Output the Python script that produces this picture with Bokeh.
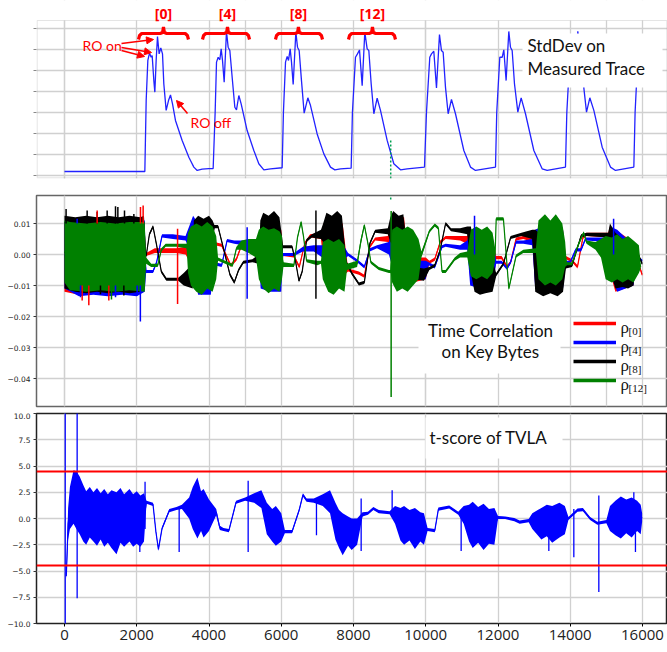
import numpy as np
from bokeh.plotting import figure
from bokeh.layouts import column
from bokeh.models import (FixedTicker, Grid, CustomJSTickFormatter, Label, BoxAnnotation,
                          Arrow, NormalHead, Legend, LegendItem, Range1d)
from bokeh.embed import file_html
from bokeh.resources import INLINE

# ---------------- data ----------------
x_ticks = [0, 2000, 4000, 6000, 8000, 10000, 12000, 14000, 16000]
std_ticks = [0, 1, 2, 3, 4, 5, 6, 7]
corr_ticks = [0.01, 0.0, -0.01, -0.02, -0.03, -0.04]
t_ticks = [10, 7.5, 5, 2.5, 0, -2.5, -5, -7.5, -10]

# StdDev of measured trace (arbitrary units)
std_trace = [
    (0, 0.19), (2224, 0.19), (2261, 3.57), (2307, 5.48), (2353, 5.83), (2399, 5.63), (2427, 5.71),
    (2473, 4.52), (2501, 3.97), (2537, 5.48), (2574, 6.62), (2620, 5.79), (2666, 6.08), (2713, 5.79),
    (2749, 4.37), (2814, 3.10), (2879, 3.57), (2934, 3.84), (2990, 3.41), (3072, 2.62), (3257, 1.67),
    (3442, 0.87), (3580, 0.40), (3673, 0.24), (3811, 0.30), (3995, 0.33), (4115, 0.33),
    (4170, 3.0), (4208, 5.40), (4254, 5.63), (4300, 5.51), (4337, 6.03), (4374, 5.48), (4420, 4.44),
    (4484, 6.87), (4530, 6.11), (4577, 5.95), (4641, 4.68), (4715, 3.25), (4761, 3.13), (4826, 3.81),
    (4890, 3.41), (5056, 2.14), (5241, 1.19), (5379, 0.56), (5518, 0.27), (5702, 0.32), (6025, 0.37),
    (6060, 3.0), (6118, 5.40), (6164, 5.67), (6201, 5.48), (6247, 6.03), (6284, 5.40), (6330, 4.33),
    (6404, 6.83), (6450, 6.11), (6496, 5.95), (6560, 4.52), (6634, 2.97), (6736, 3.70), (6810, 3.33),
    (6994, 1.98), (7179, 1.03), (7363, 0.40), (7483, 0.27), (7640, 0.32), (7935, 0.35),
    (7970, 3.0), (8055, 5.63), (8110, 5.79), (8166, 5.98), (8240, 4.28), (8313, 6.83), (8378, 6.03),
    (8424, 5.95), (8489, 4.37), (8563, 2.94), (8655, 3.68), (8747, 3.10), (8932, 1.67), (9116, 0.56),
    (9301, 0.27), (9486, 0.32), (9965, 0.40),
    (10020, 3.0), (10112, 5.63), (10159, 5.79), (10223, 5.92), (10297, 4.17), (10380, 6.71),
    (10435, 5.95), (10482, 5.87), (10546, 4.21), (10620, 2.94), (10712, 3.62), (10823, 2.94),
    (11054, 1.19), (11239, 0.40), (11377, 0.24), (11931, 0.40),
    (11965, 3.0), (12050, 5.63), (12115, 5.63), (12161, 5.98), (12225, 4.52), (12299, 6.86),
    (12345, 6.11), (12392, 5.95), (12456, 4.37), (12549, 3.02), (12641, 3.70), (12761, 2.94),
    (12992, 1.19), (13222, 0.32), (13361, 0.24), (13868, 0.40),
    (13905, 3.0), (13988, 5.63), (14053, 5.71), (14099, 6.03), (14163, 4.44), (14209, 6.87),
    (14265, 6.03), (14311, 5.95), (14376, 4.17), (14450, 3.02), (14542, 3.70), (14653, 3.10),
    (14884, 1.35), (15114, 0.40), (15253, 0.24), (15760, 0.40),
    (15795, 3.0), (15870, 5.63), (15926, 5.79), (15990, 5.98),
]

# Time correlation envelopes per key byte: (sample, low, high) in units of 1e-3
rho0_env = [
    (0, -12, 10.5), (400, -13, 11), (800, -12.5, 10.5), (1200, -13, 11), (1600, -12.5, 10.5),
    (2000, -13, 11), (2200, -12, 11.5), (2260, -0.5, 0.5), (2500, 0.5, 2),
    (2800, 0.5, 2), (3100, 0.5, 2), (3350, 0, 2.5), (3450, -2, 5), (3580, -3, 10), (3800, -2, 9),
    (4050, -3, 10), (4150, 3, 4), (4350, 2.5, 3.5), (4600, -4, -3), (4760, -2, -1), (4900, 2.5, 3.5),
    (5200, 2, 3.5), (5380, 0.5, 4), (5420, -8, 8), (6000, -8, 8), (6050, -0.5, 0.5), (6350, -1, 0),
    (6500, -4.5, -3.5), (6650, 3, 4), (6800, 5.5, 6.5), (7100, 5, 7), (7180, -5, 10), (7700, -7, 10),
    (7850, -5.5, -4.5), (8150, -6.5, -5.5), (8300, -7.5, -6.5), (8450, 2, 3), (8600, 4.5, 5.5),
    (8950, 4, 6), (9040, -1, 12), (9400, -1, 12), (9500, -5, 0), (9650, -9, -1), (10000, -8, -1),
    (10100, -3, -2), (10250, -2, -1), (10400, 3.5, 4.5), (10550, 5, 6), (10950, 4.5, 6),
    (11150, 3.5, 6), (11230, -8, 8), (11500, -12, 7), (11850, -11, 5), (11950, -1.5, -0.5),
    (12100, -1.5, -0.5), (12250, -4.5, -3.5), (12350, -3, -2), (12500, 4.5, 5.5), (12700, 5, 6),
    (12950, 4, 6.5), (13030, -10, 8), (13400, -12, 9), (13800, -10, 8), (13880, -1.5, -0.5),
    (14050, -2.5, -1.5), (14200, -4.5, -3.5), (14350, 5, 6), (14450, 6, 7), (15050, 5.5, 7),
    (15100, -6, 9), (15250, -12, 8), (15750, -10, 4), (15850, -2, -1), (15990, -7, -6),
]
rho4_env = [
    (0, -11, 10.5), (400, -13.5, 11), (800, -13, 10.5), (1200, -13.5, 11), (1600, -13, 10.5),
    (2000, -13.5, 11), (2220, -12, 11), (2260, -6, -5), (2450, -6, -5),
    (2550, -3, -2), (2700, 5.5, 6.5), (3000, 5, 6.5), (3350, 4.5, 6), (3450, 2, 9), (3560, -5, 12.5),
    (3700, -13, 10), (4050, -13, 9), (4150, -3.5, -2.5), (4350, -4, -3), (4500, 4, 5), (4700, 3.5, 4.5),
    (4950, 3, 4.5), (5200, 1.5, 3), (5380, 0, 3), (5430, -11, 6), (5700, -12, 5), (6000, -12, 6),
    (6050, -0.5, 0.5), (6350, -0.5, 0.5), (6600, 1, 2.5), (6900, 1, 3), (7200, -1.5, 3),
    (7750, -1.5, 2.5), (7850, -0.5, 0.5), (8100, -2.5, -1.5), (8300, -4.5, -3.5), (8450, 1, 2),
    (8650, 2, 3), (8980, 0, 4), (9050, -3, 8), (9400, -3, 8), (9500, -5, -1), (9650, -8, -2),
    (10000, -8, -2), (10080, -3.5, -2.5), (10250, -4.5, -3.5), (10450, 2, 3), (10550, 2.5, 3.5),
    (10950, 1.5, 3), (11150, 1.5, 4.5), (11230, -10, 8), (11500, -11, 8), (11850, -10, 6),
    (11950, -3, -2), (12100, -3, -2), (12250, -5, -4), (12350, -3, -2), (12500, 3.5, 4.5),
    (12700, 3.5, 4.5), (12950, 3, 5), (13030, -11, 8), (13400, -12, 10), (13800, -11, 8),
    (13880, -3, -2), (14000, -3, -2), (14150, 1, 2), (14300, 1, 2), (14420, 4.5, 5.5), (15050, 4, 5.5),
    (15100, -6, 9), (15300, -12, 8), (15750, -10, 3), (15850, -1.5, -0.5), (15990, -2.5, -1.5),
]
rho8_env = [
    (0, -11, 12.5), (300, -12, 12), (600, -12.5, 12.5), (900, -12, 12), (1200, -12.5, 12.5),
    (1500, -12, 12), (1800, -12.5, 12.5), (2100, -12, 12), (2200, -11, 12.5),
    (2260, -1, 0), (2350, 6, 7), (2450, 8.5, 9.5), (2550, 2.5, 3.5), (2680, -6, -5),
    (2820, -8.5, -7.5), (3150, -8.5, -7.5), (3300, -10, -6), (3550, -11, -3), (3580, -2, 11),
    (3700, 0, 12.5), (3850, 1, 11.5), (4000, 0, 12.5), (4100, 2, 11), (4150, 8.5, 9.5),
    (4250, 8.5, 9.5), (4400, 1.5, 2.5), (4580, -7, -6), (4700, -9.5, -8.5), (4820, -5.5, -4.5),
    (4950, -3, -2), (5200, -2.5, -1.5), (5380, -3, 0), (5420, -3, 11), (5500, -3, 13.5),
    (5650, -4, 12.5), (5800, -3, 14), (5950, -3, 12), (6020, 0, 6), (6050, 2, 3), (6300, 2, 3),
    (6400, -3, -2), (6490, -9, -8), (6580, -6, -5), (6700, 4, 5), (6850, 5.5, 6.5), (7100, 5, 8),
    (7160, 4, 10), (7250, 3, 13.5), (7400, 3, 12.5), (7550, 3, 14), (7680, 3, 12.5), (7800, -3, -2),
    (7950, -6.5, -5.5), (8150, -10, -9), (8300, -9.5, -8.5), (8450, 3, 4), (8600, 7, 8),
    (8950, 6.5, 8.5), (9020, 4, 12), (9100, 3, 14), (9250, 3, 12.5), (9380, 2, 13), (9450, -2, 6),
    (9550, -3, -2), (9650, -8, -4), (9950, -8.5, -4.5), (10100, -5, -4), (10250, -4, -3),
    (10400, 1, 2), (10550, 9.5, 10.5), (10700, 7.5, 8.5), (10950, 7, 8.5), (11150, 6.5, 9),
    (11250, -6, 9), (11350, -12, 2), (11500, -13, -1), (11650, -12.5, -2), (11850, -12, -2),
    (11950, -7, -6), (12150, -3.5, -2.5), (12350, 5, 6), (12650, 6, 7), (12950, 5, 8),
    (13030, -12, 8), (13250, -13.5, 6), (13450, -12.5, 7.5), (13650, -13.5, 6), (13800, -12, 6),
    (13880, -4.5, -3.5), (14050, -4, -3), (14300, 5.5, 6.5), (14450, 6, 7), (15050, 5.5, 7),
    (15100, -5, 10), (15250, -11, 7), (15450, -10.5, 5), (15600, -11, 4), (15750, -10, 2),
    (15850, 0.5, 1.5), (15990, -3.5, -2.5),
]
rho12_env = [
    (0, -9, 11), (150, -11.5, 10.5), (600, -12, 10), (1000, -11.5, 10.5), (1400, -12, 10),
    (1800, -11.5, 10.5), (2220, -12, 10.5), (2260, -3, -1), (2400, -4, -3), (2580, -4, -3),
    (2680, 1, 2), (2800, 2.5, 3.5),
    (3100, 2.5, 3.5), (3380, 2, 3.5), (3420, -6, 7), (3500, -10, 9), (3650, -12, 10), (3800, -13, 9),
    (3950, -11, 10.5), (4100, -12, 9), (4200, -8, 6), (4250, -2, -1), (4450, -3, -2), (4650, -4, -3),
    (4760, 1.5, 2.5), (4900, 1.5, 4.5), (5100, 0.5, 5), (5300, -1, 5), (5380, -8, 8), (5500, -11, 9),
    (5650, -12.5, 8), (5800, -11, 8.5), (5950, -12, 7.5), (6020, -8, 6), (6060, -4, -2.5),
    (6350, -4, -3), (6450, 5, 6), (6550, 10, 11), (6620, 5, 6), (6700, -2.5, -1.5), (7000, -3.5, -2),
    (7100, -3, -2), (7150, -8, 4), (7300, -12, 5), (7450, -13, 4), (7600, -11, 5), (7750, -12, 3),
    (7820, -5, -3), (8100, -4, -2), (8200, 3, 5), (8300, 9, 10), (8400, 3, 4), (8480, -3, -2),
    (8700, -5, -4), (8980, -6, -5), (9030, -6, -5), (9070, -9, 8), (9200, -12, 9), (9350, -11, 8),
    (9500, -12, 9), (9650, -10, 8), (9800, -8, 5), (9880, -1, 1), (10100, 7, 8), (10250, 9, 10),
    (10350, 8, 9), (10450, -6, -5), (10550, -6, -5), (10800, -2, -1), (10950, -1, 0.5),
    (11150, -1, 1), (11250, -7, 8), (11400, -8, 9), (11550, -7, 8), (11700, -8, 9), (11850, -6, 7),
    (11920, -2, 2), (11950, 11, 12), (12150, 11, 12), (12300, -11.5, -10.5), (12500, -1, 0),
    (12700, 0.5, 1.5), (13050, 0.5, 2), (13120, -8, 11), (13300, -10, 13), (13450, -9, 11),
    (13600, -10, 13), (13780, -8, 10), (13860, -4, 4), (13900, -3.5, -2.5), (14050, -3.5, -2.5),
    (14200, 2, 3), (14370, 6.5, 7.5), (14450, 3.5, 4.5), (14700, 1.5, 4), (14850, -1, 5),
    (14980, -8, 6), (15150, -9, 5.5), (15300, -8, 6.5), (15450, -9, 5), (15600, -8, 6),
    (15750, -9, 4.5), (15900, -6, 3), (15950, -4.5, -3.5),
]
# isolated single-sample spikes: (sample, from, to, series) in 1e-3
corr_spikes = [
    (44, 10, 14.7, "rho8"), (627, 10, 14.2, "rho8"), (904, 10, 13.7, "rho8"), (1181, 10, 14.2, "rho8"),
    (1412, 10, 15.6, "rho8"), (1477, 10, 15.3, "rho8"), (1661, 10, 14.2, "rho8"), (1920, 10, 13.1, "rho8"),
    (904, 10, 14.2, "rho0"), (2103, 10, 15.3, "rho0"), (2177, 10, 15.8, "rho0"), (350, 10, 11.5, "rho4"),
    (489, -10, -14.8, "rho0"), (673, -10, -16.4, "rho0"), (1227, -10, -14.8, "rho0"),
    (443, -10, -13.8, "rho4"), (1412, -10, -13.8, "rho4"), (2011, -10, -13.2, "rho4"),
    (996, -10, -12.8, "rho8"), (1643, -10, -13.2, "rho8"), (1300, -10, -14.5, "rho12"),
    (2100, -21.6, -10, "rho4"), (3130, -16, 8.3, "rho0"), (5056, -14.3, 8.8, "rho4"),
    (6960, -14.3, 14.2, "rho8"), (9042, -46.0, 14.0, "rho12"), (11350, 0, 12.5, "rho4"),
    (15200, 0, 11.5, "rho4"),
]

# TVLA t-score envelope: (sample, low, high)
tscore_env = [
    (50, -5.8, -5.2), (100, -2, 1), (150, -1, 3), (250, -0.5, 4.6), (330, -1, 4.5), (420, -1.5, 4),
    (520, -2.2, 3.2), (600, -2.5, 2.6), (700, -1.8, 3), (800, -2.2, 2.5), (900, -2.6, 2.9),
    (1000, -2, 2.4), (1100, -2.7, 2.8), (1200, -2.3, 2.3), (1300, -2.8, 2.7), (1440, -3.4, 2.5),
    (1550, -2.3, 2.9), (1650, -2.7, 2.3), (1800, -2.2, 2.8), (1900, -2.7, 2.3), (2000, -2.4, 2.6),
    (2100, -2.7, 2.2), (2200, -2.2, 2.4), (2270, 1.4, 1.7), (2450, 1.2, 1.5), (2530, -1.4, -1.1),
    (2600, -3.1, -2.8), (2700, -1.1, -0.8), (2900, 0.6, 0.9), (3100, 0.8, 1.1), (3250, 0.9, 1.3),
    (3450, 0, 2), (3550, -1, 3), (3680, -1.9, 3.9), (3780, -1.2, 2.6), (3850, -1.8, 2.8),
    (4000, -1.2, 1.8), (4200, 0.3, 0.9), (4300, -1.1, -0.7), (4400, -1.2, -0.9), (4550, -1.3, -1.0),
    (4750, 1.4, 1.7), (5000, 1.7, 2.0), (5250, 1.5, 2.4), (5450, 1, 2.7), (5600, -1.5, 1.5),
    (5750, -2.2, 0.9), (5850, -2.6, 1.2), (6000, -2.2, 0.5), (6100, -1.4, -1.1), (6300, -1.4, -1.1),
    (6500, 0.7, 1.0), (6600, 2.1, 2.4), (6700, 1.6, 1.9), (6900, 1.5, 1.9), (7150, 1.2, 2.3),
    (7350, 0.5, 2.7), (7500, -2, 1.5), (7600, -2.8, 0.8), (7700, -3.5, 0.5), (7850, -2.6, 0.2),
    (7950, -3, 0), (8100, -2.5, 0), (8250, 0.2, 0.6), (8400, 0.35, 0.65), (8550, 0.8, 1.1),
    (8700, 0.5, 0.8), (9000, 0.4, 0.7), (9150, -0.5, 1.2), (9300, -2.1, 1.0), (9400, -2.5, 1.2),
    (9550, -2.1, 0.8), (9700, -2.9, 1), (9850, -2.2, 0.6), (9950, -2.5, 0.5), (10050, -1.2, -0.9),
    (10250, -1.3, -1.0), (10350, 0.75, 1.05), (10650, 0.95, 1.25), (10900, 0.35, 0.65),
    (11050, -0.5, 1.2), (11200, -2.2, 1.3), (11300, -2.8, 1.6), (11450, -2.3, 1.1), (11600, -3, 1.4),
    (11750, -2.4, 0.9), (11900, -2.5, 1), (12000, -0.05, 0.25), (12200, -0.05, 0.2),
    (12450, -0.25, 0.05), (12600, -0.5, -0.2), (12850, -0.35, -0.05), (12950, -1, 0.5),
    (13100, -1.6, 0.8), (13200, -2, 1), (13350, -1.7, 1.3), (13500, -2.3, 1.2), (13700, -1.8, 1.5),
    (13850, -1.5, 1.2), (13950, -0.15, 0.15), (14200, 0.65, 0.95), (14350, 0.7, 1.0),
    (14550, -0.15, 0.15), (14750, -0.6, -0.3), (15000, -0.45, -0.15), (15100, -1.2, 1.2),
    (15250, -1.6, 1.7), (15400, -1.9, 2.1), (15550, -1.4, 1.8), (15700, -1.8, 2), (15850, -1.2, 1.7),
    (15950, -1.5, 1.3), (15990, -0.3, 0.5),
]
tscore_spikes = [
    (20, -10.5, 10.5), (350, -7.6, 10.5), (2085, -3.2, 0), (2230, -1, 3.5), (3174, -3.2, 0.9),
    (5084, -3.2, 3.6), (6975, -1.6, 1.7), (8212, -3.1, 1.9), (9070, 0.4, 2.7), (10980, -3.1, 0.5),
    (13407, -3.1, 0), (14099, -3.7, 0.9), (14791, -7.0, 2.2), (15760, 0, 2.5), (15805, -3.2, 1.0),
]
tvla_threshold = [4.5, -4.5]

bracket_labels = ["[0]", "[4]", "[8]", "[12]"]
bracket_start = [2048, 3820, 5840, 7861]
bracket_mid = [2740, 4512, 6476, 8525]
bracket_end = [3432, 5122, 7142, 9162]
marker_sample = 9030

series_names = ["rho0", "rho4", "rho8", "rho12"]
series_colors = {"rho0": "#ff0000", "rho4": "#0000ff", "rho8": "#000000", "rho12": "#008000"}
series_subs = {"rho0": "[0]", "rho4": "[4]", "rho8": "[8]", "rho12": "[12]"}
series_env = {"rho0": rho0_env, "rho4": rho4_env, "rho8": rho8_env, "rho12": rho12_env}

# ---------------- layout helpers (page pixel -> data, for annotations) ----------------
W = 667
PPU = 578 / 16000.0
def fx(px): return (px - 64) / PPU
def fy1(py): return (175 - py) / 21.0
def fy2(py): return (254 - py) / 3100.0
def fy3(py): return (518 - py) / 10.5

XR = (fx(36), fx(667))
GRID = "#d0d0d0"
RED = "#ff0000"
TXT = "Lato"


def style_grid(p):
    for g in p.grid:
        g.grid_line_color = GRID
        g.grid_line_width = 1.3


def style_yaxis(p, ticks, code, tick_color="#333333"):
    ax = p.yaxis[0]
    ax.ticker = FixedTicker(ticks=ticks)
    ax.formatter = CustomJSTickFormatter(code=code)
    ax.major_label_text_font = "DejaVu Sans"
    ax.major_label_text_font_size = "7.5px"
    ax.major_label_text_color = "#222222"
    ax.major_tick_out = 3
    ax.major_tick_in = 0
    ax.minor_tick_out = 0
    ax.minor_tick_in = 0
    ax.major_tick_line_color = tick_color
    ax.axis_line_color = None
    ax.major_label_standoff = 3
    p.ygrid.ticker = FixedTicker(ticks=ticks)


# ---------------- panel 1: StdDev ----------------
p1 = figure(width=W, height=186, x_range=Range1d(*XR), y_range=Range1d(fy1(178), fy1(0)),
            output_backend="svg", toolbar_location=None, x_axis_location=None,
            min_border_left=36, min_border_right=0, min_border_top=0, min_border_bottom=8)
p1.add_layout(Grid(dimension=0, ticker=FixedTicker(ticks=x_ticks)))
style_yaxis(p1, std_ticks, "return '';", tick_color="#888888")
style_grid(p1)
p1.outline_line_color = None

sx, sy = zip(*std_trace)
p1.line(list(sx), list(sy), line_color="#2222ff", line_width=1.3)
p1.segment(x0=[marker_sample], y0=[fy1(140)], x1=[marker_sample], y1=[fy1(200)],
           line_color="#00a050", line_width=1.5, line_dash="2 2")

# white strip above the drawn frame, and the frame outline itself
p1.add_layout(BoxAnnotation(left=XR[0], right=XR[1], top=fy1(-2), bottom=fy1(20),
                            fill_color="white", fill_alpha=1.0, line_color=None))
p1.add_layout(BoxAnnotation(left=fx(36.6), right=fx(666.4), top=fy1(20), bottom=fy1(177.4),
                            fill_alpha=0, line_color="#a8a8a8", line_width=1.2))

# brackets
bx, by = [], []
for s, m, e in zip(bracket_start, bracket_mid, bracket_end):
    top = fy1(33)
    bx.append([s, s + 30, s + 90, m - 90, m - 25, m, m + 25, m + 90, e - 90, e - 30, e])
    by.append([fy1(39), fy1(35), top, top, fy1(32), fy1(26.5), fy1(32), top, top, fy1(35), fy1(39)])
p1.multi_line(bx, by, line_color=RED, line_width=3.2)
for lab, m in zip(bracket_labels, bracket_mid):
    p1.add_layout(Label(x=m, y=fy1(13), text=lab, text_align="center", text_baseline="middle",
                        text_font="Open Sans", text_font_style="bold", text_font_size="14px",
                        text_color=RED))

p1.add_layout(Label(x=fx(82), y=fy1(45), text="RO on", text_baseline="middle",
                    text_font=TXT, text_font_size="14px", text_color=RED))
p1.add_layout(Label(x=fx(190), y=fy1(122), text="RO off", text_baseline="middle",
                    text_font=TXT, text_font_size="14px", text_color=RED))
for (x0, y0, x1, y1) in [(121, 43, 153, 39), (121, 47, 151, 52), (121, 50, 144, 56), (187, 113, 176, 100)]:
    p1.add_layout(Arrow(end=NormalHead(size=7, fill_color=RED, line_color=RED),
                        x_start=fx(x0), y_start=fy1(y0), x_end=fx(x1), y_end=fy1(y1),
                        line_color=RED, line_width=1.6))

p1.add_layout(BoxAnnotation(left=fx(522), right=fx(662), top=fy1(33), bottom=fy1(87),
                            fill_color="white", fill_alpha=1.0, line_color=None))
p1.add_layout(Label(x=fx(527), y=fy1(55), text="StdDev on", text_font=TXT,
                    text_font_size="17px", text_color="#111111"))
p1.add_layout(Label(x=fx(527), y=fy1(78), text="Measured Trace", text_font=TXT,
                    text_font_size="17px", text_color="#111111"))

# ---------------- panel 2: correlation ----------------
p2 = figure(width=W, height=226, x_range=Range1d(*XR), y_range=Range1d(fy2(406), fy2(195)),
            output_backend="svg", toolbar_location=None, x_axis_location=None,
            min_border_left=36, min_border_right=0, min_border_top=9, min_border_bottom=6)
p2.add_layout(Grid(dimension=0, ticker=FixedTicker(ticks=x_ticks)))
style_yaxis(p2, corr_ticks, "return tick.toFixed(2).replace('-', '\u2212');")
style_grid(p2)
p2.outline_line_color = "#666666"
p2.outline_line_width = 1.5

for name in series_names:
    env = series_env[name]
    ex = [e[0] for e in env]
    lo = [e[1] * 1e-3 for e in env]
    hi = [e[2] * 1e-3 for e in env]
    mid = [(a + b) / 2 for a, b in zip(lo, hi)]
    c = series_colors[name]
    p2.varea(x=ex, y1=lo, y2=hi, fill_color=c, fill_alpha=1.0)
    p2.line(ex, mid, line_color=c, line_width=1.2)

p2.segment(x0=[s[0] for s in corr_spikes], y0=[s[1] * 1e-3 for s in corr_spikes],
           x1=[s[0] for s in corr_spikes], y1=[s[2] * 1e-3 for s in corr_spikes],
           line_color=[series_colors[s[3]] for s in corr_spikes], line_width=1.5)
p2.segment(x0=[marker_sample], y0=[0.03], x1=[marker_sample], y1=[fy2(200)],
           line_color="#00a050", line_width=1.5, line_dash="2 2")

p2.add_layout(BoxAnnotation(left=fx(418), right=fx(560), top=fy2(318), bottom=fy2(373),
                            fill_color="white", fill_alpha=1.0, line_color=None))
p2.add_layout(Label(x=fx(490), y=fy2(340), text="Time Correlation", text_align="center",
                    text_font=TXT, text_font_size="17px", text_color="#111111"))
p2.add_layout(Label(x=fx(490), y=fy2(361), text="on Key Bytes", text_align="center",
                    text_font=TXT, text_font_size="17px", text_color="#111111"))

items = []
for name in series_names:
    r = p2.line(x=np.array([np.nan, np.nan]), y=np.array([np.nan, np.nan]),
                line_color=series_colors[name], line_width=3.5)
    items.append(LegendItem(label=series_subs[name], renderers=[r]))
leg = Legend(items=items, location=(537, 18), glyph_width=43, glyph_height=16, label_height=16,
             spacing=3, padding=0, margin=0, background_fill_alpha=0, border_line_color=None,
             label_text_font_size="1px", label_text_alpha=0, label_standoff=0, label_width=2)
p2.add_layout(leg)
row_py = [323, 342, 361, 380]
for name, py in zip(series_names, row_py):
    p2.add_layout(Label(x=fx(620), y=fy2(py + 4), text="\u03c1", text_baseline="middle",
                        text_font="Liberation Serif", text_font_size="17px", text_color="#111111"))
    p2.add_layout(Label(x=fx(628), y=fy2(py + 7), text=series_subs[name], text_baseline="middle",
                        text_font="Liberation Serif", text_font_size="11px", text_color="#111111"))

# ---------------- panel 3: t-score ----------------
p3 = figure(width=W, height=240, x_range=Range1d(*XR), y_range=Range1d(-10, 10),
            output_backend="svg", toolbar_location=None,
            min_border_left=36, min_border_right=0, min_border_top=1, min_border_bottom=29)
style_yaxis(p3, t_ticks, "return tick.toFixed(1).replace('-', '\u2212');")
xa = p3.xaxis[0]
xa.ticker = FixedTicker(ticks=x_ticks)
xa.major_label_text_font = "Open Sans"
xa.major_label_text_font_size = "15px"
xa.major_label_text_color = "#222222"
xa.major_tick_out = 3
xa.major_tick_in = 0
xa.minor_tick_out = 0
xa.minor_tick_in = 0
xa.axis_line_color = None
xa.major_label_standoff = 3
p3.xgrid.ticker = FixedTicker(ticks=x_ticks)
style_grid(p3)
p3.outline_line_color = "#222222"
p3.outline_line_width = 1.5

tx = [e[0] for e in tscore_env]
tlo = [e[1] for e in tscore_env]
thi = [e[2] for e in tscore_env]
tmid = [(a + b) / 2 for a, b in zip(tlo, thi)]
p3.varea(x=tx, y1=tlo, y2=thi, fill_color="#0000ff", fill_alpha=1.0)
p3.line(tx, tmid, line_color="#0000ff", line_width=1.2)
p3.segment(x0=[s[0] for s in tscore_spikes], y0=[s[1] for s in tscore_spikes],
           x1=[s[0] for s in tscore_spikes], y1=[s[2] for s in tscore_spikes],
           line_color="#0000ff", line_width=1.3)
p3.hspan(y=tvla_threshold, line_color=RED, line_width=2)

p3.add_layout(BoxAnnotation(left=fx(425), right=fx(562), top=fy3(417), bottom=fy3(458),
                            fill_color="white", fill_alpha=1.0, line_color=None))
p3.add_layout(Label(x=fx(488), y=fy3(447), text="t-score of TVLA", text_align="center",
                    text_font=TXT, text_font_size="17px", text_color="#111111"))

layout = column(p1, p2, p3, spacing=0)
open("out.html", "w").write(file_html(layout, INLINE))
